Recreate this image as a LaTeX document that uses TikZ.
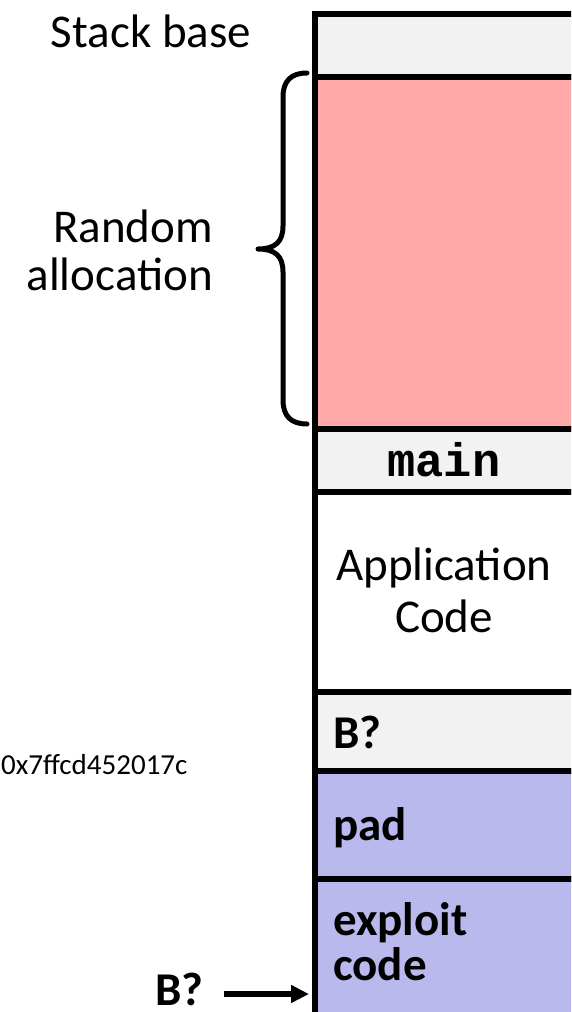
\documentclass[tikz,border=0pt]{standalone}
\usepackage{fontspec}
\setmainfont{Carlito}
\setmonofont{Liberation Mono}
\usetikzlibrary{arrows.meta}
\definecolor{cellgray}{HTML}{F2F2F2}
\definecolor{cellpink}{HTML}{FFA9A9}
\definecolor{cellblue}{HTML}{B9B9EE}
\begin{document}
\begin{tikzpicture}[x=1pt,y=-1pt,
  cell/.style={draw=black,line width=6pt,rectangle,anchor=north west,inner sep=0pt,minimum width=265pt},
  bigtxt/.style={inner sep=0pt,font=\fontsize{47}{52}\selectfont},
  boldtxt/.style={inner sep=0pt,font=\fontsize{47}{52}\selectfont\bfseries},
  monotxt/.style={inner sep=0pt,font=\fontsize{47}{52}\selectfont\ttfamily\bfseries},
  smalltxt/.style={inner sep=0pt,font=\fontsize{29}{34}\selectfont},
  bracestyle/.style={line width=5pt,line cap=round,line join=round},
  arrowstyle/.style={line width=5.5pt,-{Triangle[length=18pt,width=17pt]}}]
\useasboundingbox (0,0) rectangle (571,1012);
\begin{scope}
\clip (0,0) rectangle (571,1012);
% stack cells
\node[cell,fill=cellgray,minimum height=63.5pt] (base) at (312,10.5) {};
\node[cell,fill=cellpink,minimum height=352pt] (rand) at (312,74) {};
\node[cell,fill=cellgray,minimum height=63pt] (mainc) at (312,426) {};
\node[cell,fill=white,minimum height=200pt] (app) at (312,489) {};
\node[cell,fill=cellgray,minimum height=79pt] (bc) at (312,689) {};
\node[cell,fill=cellblue,minimum height=108pt] (pad) at (312,768) {};
\node[cell,fill=cellblue,minimum height=137pt] (expl) at (312,876) {};
% texts in cells
\node[monotxt,anchor=base] (tmain) at (444,476) {main};
\node[bigtxt,anchor=base] (tapp) at (444,580) {Application};
\node[bigtxt,anchor=base] (tcode) at (444,632) {Code};
\node[boldtxt,anchor=base west] (tb) at (333,748) {B?};
\node[boldtxt,anchor=base west] (tpad) at (333,840) {pad};
\node[boldtxt,anchor=base west] (texp) at (333,935) {exploit};
\node[boldtxt,anchor=base west] (texc) at (333,980) {code};
% left labels
\node[bigtxt,anchor=base] (tbase) at (151,47) {Stack base};
\node[bigtxt,anchor=base east] (trand) at (213,242) {Random};
\node[bigtxt,anchor=base east] (talloc) at (213,290) {allocation};
\node[smalltxt,anchor=base west] (thex) at (1,774) {0x7ffcd452017c};
\node[boldtxt,anchor=base west] (tbq) at (155,1005) {B?};
% brace
\draw[bracestyle] (307,73) .. controls (291,73) and (283,81) .. (283,97) -- (283,226)
  .. controls (283,242) and (275,249) .. (258,249)
  .. controls (275,249) and (283,256) .. (283,272) -- (283,400)
  .. controls (283,416) and (291,424) .. (307,424);
% arrow
\coordinate (astart) at (224,994);
\coordinate (aend) at (309,994);
\draw[arrowstyle] (astart) -- (aend);
\end{scope}
\end{tikzpicture}
\end{document}
